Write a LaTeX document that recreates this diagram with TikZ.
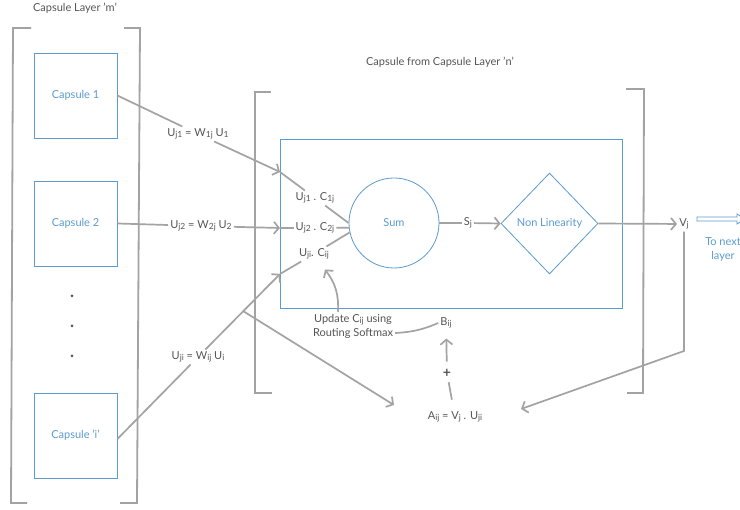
\documentclass[tikz,border=0pt]{standalone}
\usepackage{fontspec}
\setmainfont{Lato}
\usetikzlibrary{arrows.meta,shapes.geometric,calc}
\definecolor{lgray}{HTML}{A3A3A3}
\definecolor{tgray}{HTML}{555555}
\definecolor{cblue}{HTML}{5B9BD0}
\newcommand{\sbs}[1]{\raisebox{-1.2pt}{\fontsize{8.5}{10}\selectfont #1}}
\begin{document}
\begin{tikzpicture}[x=1pt,y=-1pt,
  font=\fontsize{11}{14}\selectfont,
  conn/.style={draw=lgray, line width=1.7pt},
  arr/.style={conn, -{Straight Barb[length=5pt,width=12pt]}},
  lbl/.style={text=tgray, inner sep=2pt},
  capbox/.style={draw=cblue, line width=0.8pt, minimum width=83pt, minimum height=85pt, text=cblue, inner sep=0pt},
  brk/.style={draw=lgray, line width=1.8pt},
  bluebox/.style={draw=cblue, line width=0.8pt, text=cblue, inner sep=0pt}]
\useasboundingbox (0,0) rectangle (740,510);
\fill[white] (0,0) rectangle (740,510);

% titles
\node[lbl] (titleM) at (75,8) {Capsule Layer 'm'};
\node[lbl] (titleN) at (440,62) {Capsule from Capsule Layer 'n'};

% brackets
\path[brk] (31,28) -- (13,28) -- (11,503) -- (27,503);
\path[brk] (124,28) -- (140,28) -- (137,503) -- (120,503);
\path[brk] (271,92) -- (255,92) -- (255,393) -- (272,393);
\path[brk] (626,89) -- (644,89) -- (643,393) -- (627,393);

% capsules of layer m
\node[capbox] (cap1) at (75.5,95.5) {Capsule 1};
\node[capbox] (cap2) at (75.5,223.5) {Capsule 2};
\node[capbox] (capi) at (75.5,435.5) {Capsule 'i'};
\fill[tgray] (72,296) circle (1.5pt) (72,326) circle (1.5pt) (72,356) circle (1.5pt);

% capsule of layer n
\node[bluebox, minimum width=342pt, minimum height=169pt] (inner) at (451,223.5) {};
\node[bluebox, circle, minimum size=90pt] (sum) at (394,223) {Sum};
\node[bluebox, diamond, minimum width=97pt, minimum height=101pt] (nl) at (549.5,223.5) {Non Linearity};

% labels
\node[lbl] (w1) at (198,134) {U\sbs{j1} = W\sbs{1j} U\sbs{1}};
\node[lbl] (w2) at (201,226) {U\sbs{j2} = W\sbs{2j} U\sbs{2}};
\node[lbl] (wi) at (198,357) {U\sbs{ji} = W\sbs{ij} U\sbs{i}};
\node[lbl] (c1) at (315,198) {U\sbs{j1} . C\sbs{1j}};
\node[lbl] (c2) at (315,228) {U\sbs{j2} . C\sbs{2j}};
\node[lbl] (ci) at (314,254) {U\sbs{ji}. C\sbs{ij}};
\node[lbl] (sj) at (468,223) {S\sbs{j}};
\node[lbl] (vj) at (684,224) {V\sbs{j}};
\node[lbl, align=center] (upd) at (353,326) {Update C\sbs{ij} using\\Routing Softmax};
\node[lbl] (bij) at (446,323) {B\sbs{ij}};
\node[lbl, font=\fontsize{14}{14}\selectfont\bfseries] (plus) at (447,373) {+};
\node[lbl] (aij) at (455,417) {A\sbs{ij} = V\sbs{j} . U\sbs{ji}};
\node[text=cblue, align=center, inner sep=0pt] (next) at (723,250) {To next\\layer};

% coordinates
\coordinate (e1) at (280,172);
\coordinate (e2) at (280,228);
\coordinate (e3) at (280,274);
\coordinate (br) at (243,311);
\coordinate (aL) at (394,405);
\coordinate (aR) at (521,409);
\coordinate (kv) at (684,351);
\coordinate (tn) at (697,219);

% inputs
\draw[conn] (cap1.east) -- (w1);
\draw[arr] (w1) -- (e1);
\draw[conn] (e1) -- (c1);
\draw[conn] (c1) -- (sum.180);

\draw[conn] (cap2.east) -- (w2);
\draw[arr] (w2) -- (e2);
\draw[conn] (e2) -- (c2);
\draw[conn] (c2) -- (sum.186);

\draw[conn] ([yshift=-3.5pt]capi.east) -- (wi);
\draw[arr] (wi) -- (e3);
\draw[conn] (e3) -- (ci);
\draw[conn] (ci) -- (sum.192);

% flow
\draw[conn] (sum) -- (sj);
\draw[arr] (sj) -- (nl.west);
\draw[arr] (nl.east) -- (vj);
\draw[arr] (vj.south) -- (kv) -- (aR);
\draw[arr] (br) -- (aL);
\draw[conn, shorten <=10pt, shorten >=3pt] (aij) -- (plus);
\draw[arr, shorten <=5pt, shorten >=8pt] (plus) -- (bij);
\draw[conn] ([yshift=-7pt]upd.east) to[bend right=10] (bij.west);
\draw[arr] ([xshift=-15pt]upd.north) to[bend right=20] ([xshift=11pt,yshift=-8pt]ci.south);

% to next layer
\draw[cblue, line width=0.8pt] (tn) ++(0,-2) -- ++(40,0) -- ++(0,-3) -- ++(8,5) -- ++(-8,5) -- ++(0,-3) -- ++(-40,0) -- cycle;
\end{tikzpicture}
\end{document}
